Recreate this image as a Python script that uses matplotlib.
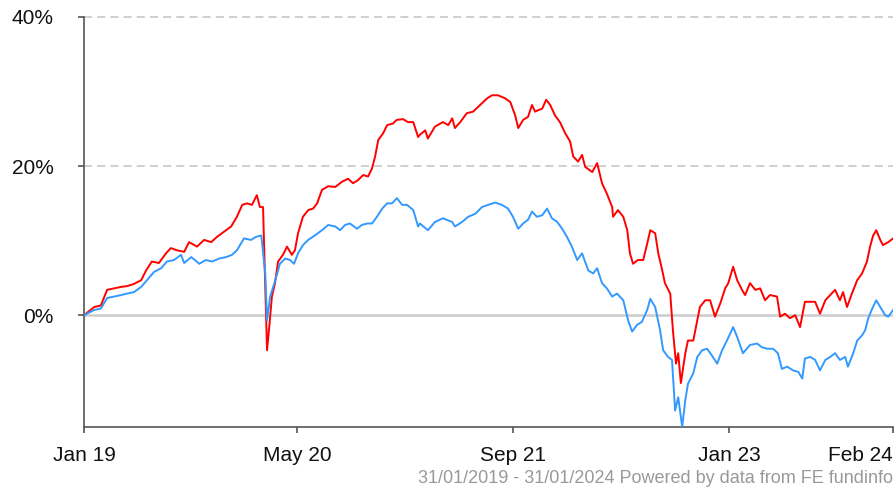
import numpy as np
import matplotlib
matplotlib.use("Agg")
import matplotlib.pyplot as plt

plt.rcParams['font.family'] = ['Liberation Sans', 'DejaVu Sans']

start_date = np.datetime64('2019-01-31')
end_date = np.datetime64('2024-01-31')

# Cumulative performance (%) — days since start date
red_days = [0, 23, 38, 52, 68, 84, 97, 113, 129, 140, 153, 169, 185, 196, 210, 226,
            237, 255, 271, 287, 300, 316, 332, 345, 357, 368, 379, 390, 397, 404, 413,
            418, 424, 431, 438, 449, 458, 469, 476, 483, 494, 506, 517, 526, 537, 551,
            567, 582, 596, 607, 618, 630, 641, 650, 657, 664, 675, 684, 697, 706, 720,
            731, 743, 754, 758, 770, 776, 792, 810, 822, 831, 837, 849, 864, 878, 894,
            910, 921, 934, 950, 962, 973, 980, 991, 1002, 1011, 1018, 1025, 1034, 1043,
            1052, 1063, 1074, 1086, 1097, 1104, 1115, 1124, 1131, 1147, 1158, 1169,
            1180, 1192, 1194, 1205, 1217, 1226, 1232, 1239, 1250, 1262, 1271, 1278,
            1289, 1296, 1305, 1311, 1323, 1329, 1336, 1341, 1347, 1357, 1363, 1375,
            1384, 1390, 1402, 1413, 1424, 1436, 1447, 1454, 1465, 1474, 1485, 1492,
            1503, 1515, 1526, 1537, 1548, 1564, 1571, 1582, 1593, 1605, 1616, 1627,
            1639, 1650, 1661, 1673, 1684, 1695, 1706, 1713, 1722, 1733, 1745, 1756,
            1767, 1774, 1781, 1788, 1797, 1803, 1815, 1826]
red_pct = [0.0, 1.1, 1.3, 3.4, 3.6, 3.8, 3.9, 4.2, 4.7, 6.0, 7.2, 7.0, 8.3, 9.0, 8.7, 8.5,
           9.8, 9.2, 10.1, 9.8, 10.5, 11.2, 11.9, 13.2, 14.8, 15.0, 14.8, 16.1, 14.5, 14.5,
           -4.7, -1.6, 2.5, 4.3, 7.2, 8.1, 9.2, 8.1, 8.7, 11.0, 13.2, 14.1, 14.3, 15.0,
           16.8, 17.3, 17.2, 17.9, 18.3, 17.7, 18.1, 18.8, 18.6, 19.7, 21.3, 23.5, 24.4,
           25.5, 25.7, 26.2, 26.3, 25.9, 25.9, 23.9, 24.2, 24.8, 23.7, 25.3, 25.9, 25.5,
           26.4, 25.1, 25.9, 27.1, 27.3, 28.2, 29.1, 29.5, 29.5, 29.1, 28.6, 26.8, 25.1,
           26.2, 26.6, 28.2, 27.3, 27.5, 27.7, 28.9, 28.2, 26.8, 25.9, 24.4, 23.3, 21.3,
           20.6, 21.5, 19.9, 19.2, 20.4, 17.7, 16.3, 14.5, 13.2, 14.1, 13.2, 11.4, 8.3,
           6.9, 7.4, 7.4, 9.6, 11.4, 11.0, 8.3, 6.0, 4.3, 2.9, -2.0, -6.5, -5.1, -9.1,
           -5.1, -3.4, -3.4, -0.7, 1.1, 2.0, 2.0, -0.2, 1.6, 3.6, 4.3, 6.5, 4.7, 3.4,
           2.7, 4.3, 3.4, 3.6, 2.0, 2.7, 2.5, -0.2, 0.2, -0.4, 0.0, -1.6, 1.8, 1.8, 1.8,
           0.2, 2.0, 2.7, 3.4, 2.0, 3.1, 1.1, 2.9, 4.7, 5.6, 7.2, 9.2, 10.7, 11.4, 10.1,
           9.4, 9.8, 10.3]

blue_days = [0, 23, 38, 52, 68, 84, 97, 113, 129, 142, 158, 174, 187, 203, 219, 226,
             242, 260, 275, 289, 305, 321, 334, 345, 361, 377, 388, 400, 409, 413, 420,
             427, 436, 442, 454, 465, 474, 483, 494, 506, 521, 537, 551, 567, 578, 589,
             600, 616, 627, 639, 650, 661, 673, 684, 695, 706, 718, 729, 743, 754, 758,
             776, 792, 810, 831, 837, 853, 867, 883, 898, 912, 928, 943, 957, 968, 980,
             991, 1002, 1011, 1022, 1034, 1045, 1056, 1068, 1079, 1090, 1101, 1113,
             1124, 1138, 1149, 1158, 1169, 1180, 1192, 1203, 1217, 1228, 1237, 1248,
             1259, 1271, 1278, 1289, 1300, 1307, 1318, 1327, 1334, 1341, 1350, 1357,
             1363, 1375, 1384, 1395, 1406, 1417, 1429, 1440, 1451, 1465, 1474, 1487,
             1503, 1519, 1530, 1542, 1555, 1566, 1575, 1587, 1600, 1612, 1621, 1627,
             1639, 1650, 1661, 1673, 1684, 1695, 1706, 1718, 1724, 1736, 1745, 1756,
             1763, 1770, 1779, 1788, 1797, 1808, 1815, 1826]
blue_pct = [0.0, 0.7, 0.9, 2.3, 2.5, 2.7, 2.9, 3.1, 3.8, 4.7, 5.8, 6.3, 7.2, 7.4, 8.1, 7.0,
            7.8, 6.9, 7.4, 7.2, 7.6, 7.8, 8.1, 8.7, 10.3, 10.1, 10.5, 10.7, 5.6, -0.7,
            2.5, 3.8, 5.6, 6.9, 7.6, 7.4, 6.9, 8.3, 9.4, 10.1, 10.7, 11.4, 12.1, 11.9,
            11.4, 12.1, 12.3, 11.6, 12.1, 12.3, 12.3, 13.2, 14.3, 15.0, 15.0, 15.7, 14.8,
            14.8, 14.1, 11.9, 12.3, 11.4, 12.5, 13.0, 12.5, 11.9, 12.5, 13.2, 13.6, 14.5,
            14.8, 15.1, 14.8, 14.3, 13.2, 11.6, 12.3, 12.8, 13.9, 13.2, 13.4, 14.3, 13.0,
            12.5, 11.6, 10.5, 9.2, 7.4, 8.3, 6.0, 5.6, 6.3, 4.3, 3.6, 2.5, 2.9, 2.0,
            -0.7, -2.2, -1.3, -0.9, 0.7, 2.2, 1.1, -2.0, -4.7, -5.6, -6.0, -12.8, -11.0,
            -15.0, -11.4, -9.2, -7.8, -5.6, -4.7, -4.5, -5.4, -6.5, -4.7, -3.4, -1.6,
            -2.9, -5.1, -4.0, -3.8, -4.3, -4.5, -4.5, -5.1, -7.2, -6.9, -7.4, -7.6, -8.5,
            -5.8, -5.6, -6.0, -7.4, -6.0, -5.6, -5.1, -6.0, -5.6, -6.9, -5.1, -3.4, -2.7,
            -2.0, -0.4, 0.9, 2.0, 1.1, 0.0, -0.2, 0.7]

tick_dates = ['2019-01-31', '2020-05-26', '2021-09-26', '2023-01-26', '2024-01-31']
tick_labels = ['Jan 19', 'May 20', 'Sep 21', 'Jan 23', 'Feb 24']
y_ticks = [0, 20, 40]
footer = '31/01/2019 - 31/01/2024 Powered by data from FE fundinfo'

red_x = start_date + np.array(red_days).astype('timedelta64[D]')
blue_x = start_date + np.array(blue_days).astype('timedelta64[D]')

fig = plt.figure(figsize=(8.94, 4.91), dpi=100)
ax = fig.add_axes([0.094, 0.1303, 0.905, 0.8351])

# horizontal guides
dash = (0, (4.5, 2.8))
ax.axhline(20, color='#cccccc', lw=1.3, ls=dash, zorder=1)
ax.axhline(40, color='#cccccc', lw=1.3, ls=dash, zorder=1, clip_on=False)
ax.axhline(0, color='#cccccc', lw=1.8, zorder=1)

ax.plot(red_x, red_pct, color='#ff0000', lw=1.4, zorder=3, solid_joinstyle='round')
ax.plot(blue_x, blue_pct, color='#3399ff', lw=1.4, zorder=4, solid_joinstyle='round')

ax.set_xlim(start_date, end_date)
ax.set_ylim(-15, 40)

ax.set_yticks(y_ticks)
ax.set_yticklabels([f'{v}%' for v in y_ticks])
ax.set_xticks([np.datetime64(d) for d in tick_dates])
ax.set_xticklabels(tick_labels)
ax.get_xticklabels()[-1].set_horizontalalignment('right')

for s in ['top', 'right']:
    ax.spines[s].set_visible(False)
for s in ['left', 'bottom']:
    ax.spines[s].set_color('#555555')
    ax.spines[s].set_linewidth(1.2)

ax.tick_params(axis='y', length=4, width=1.2, color='#555555', pad=18,
               labelsize=15, labelcolor='#111111')
ax.tick_params(axis='x', length=4, width=1.2, color='#555555', pad=10,
               labelsize=15, labelcolor='#111111')

fig.text(0.9985, 0.008, footer, ha='right', va='bottom', fontsize=13, color='#999999')

fig.savefig('out.png', dpi=100)
